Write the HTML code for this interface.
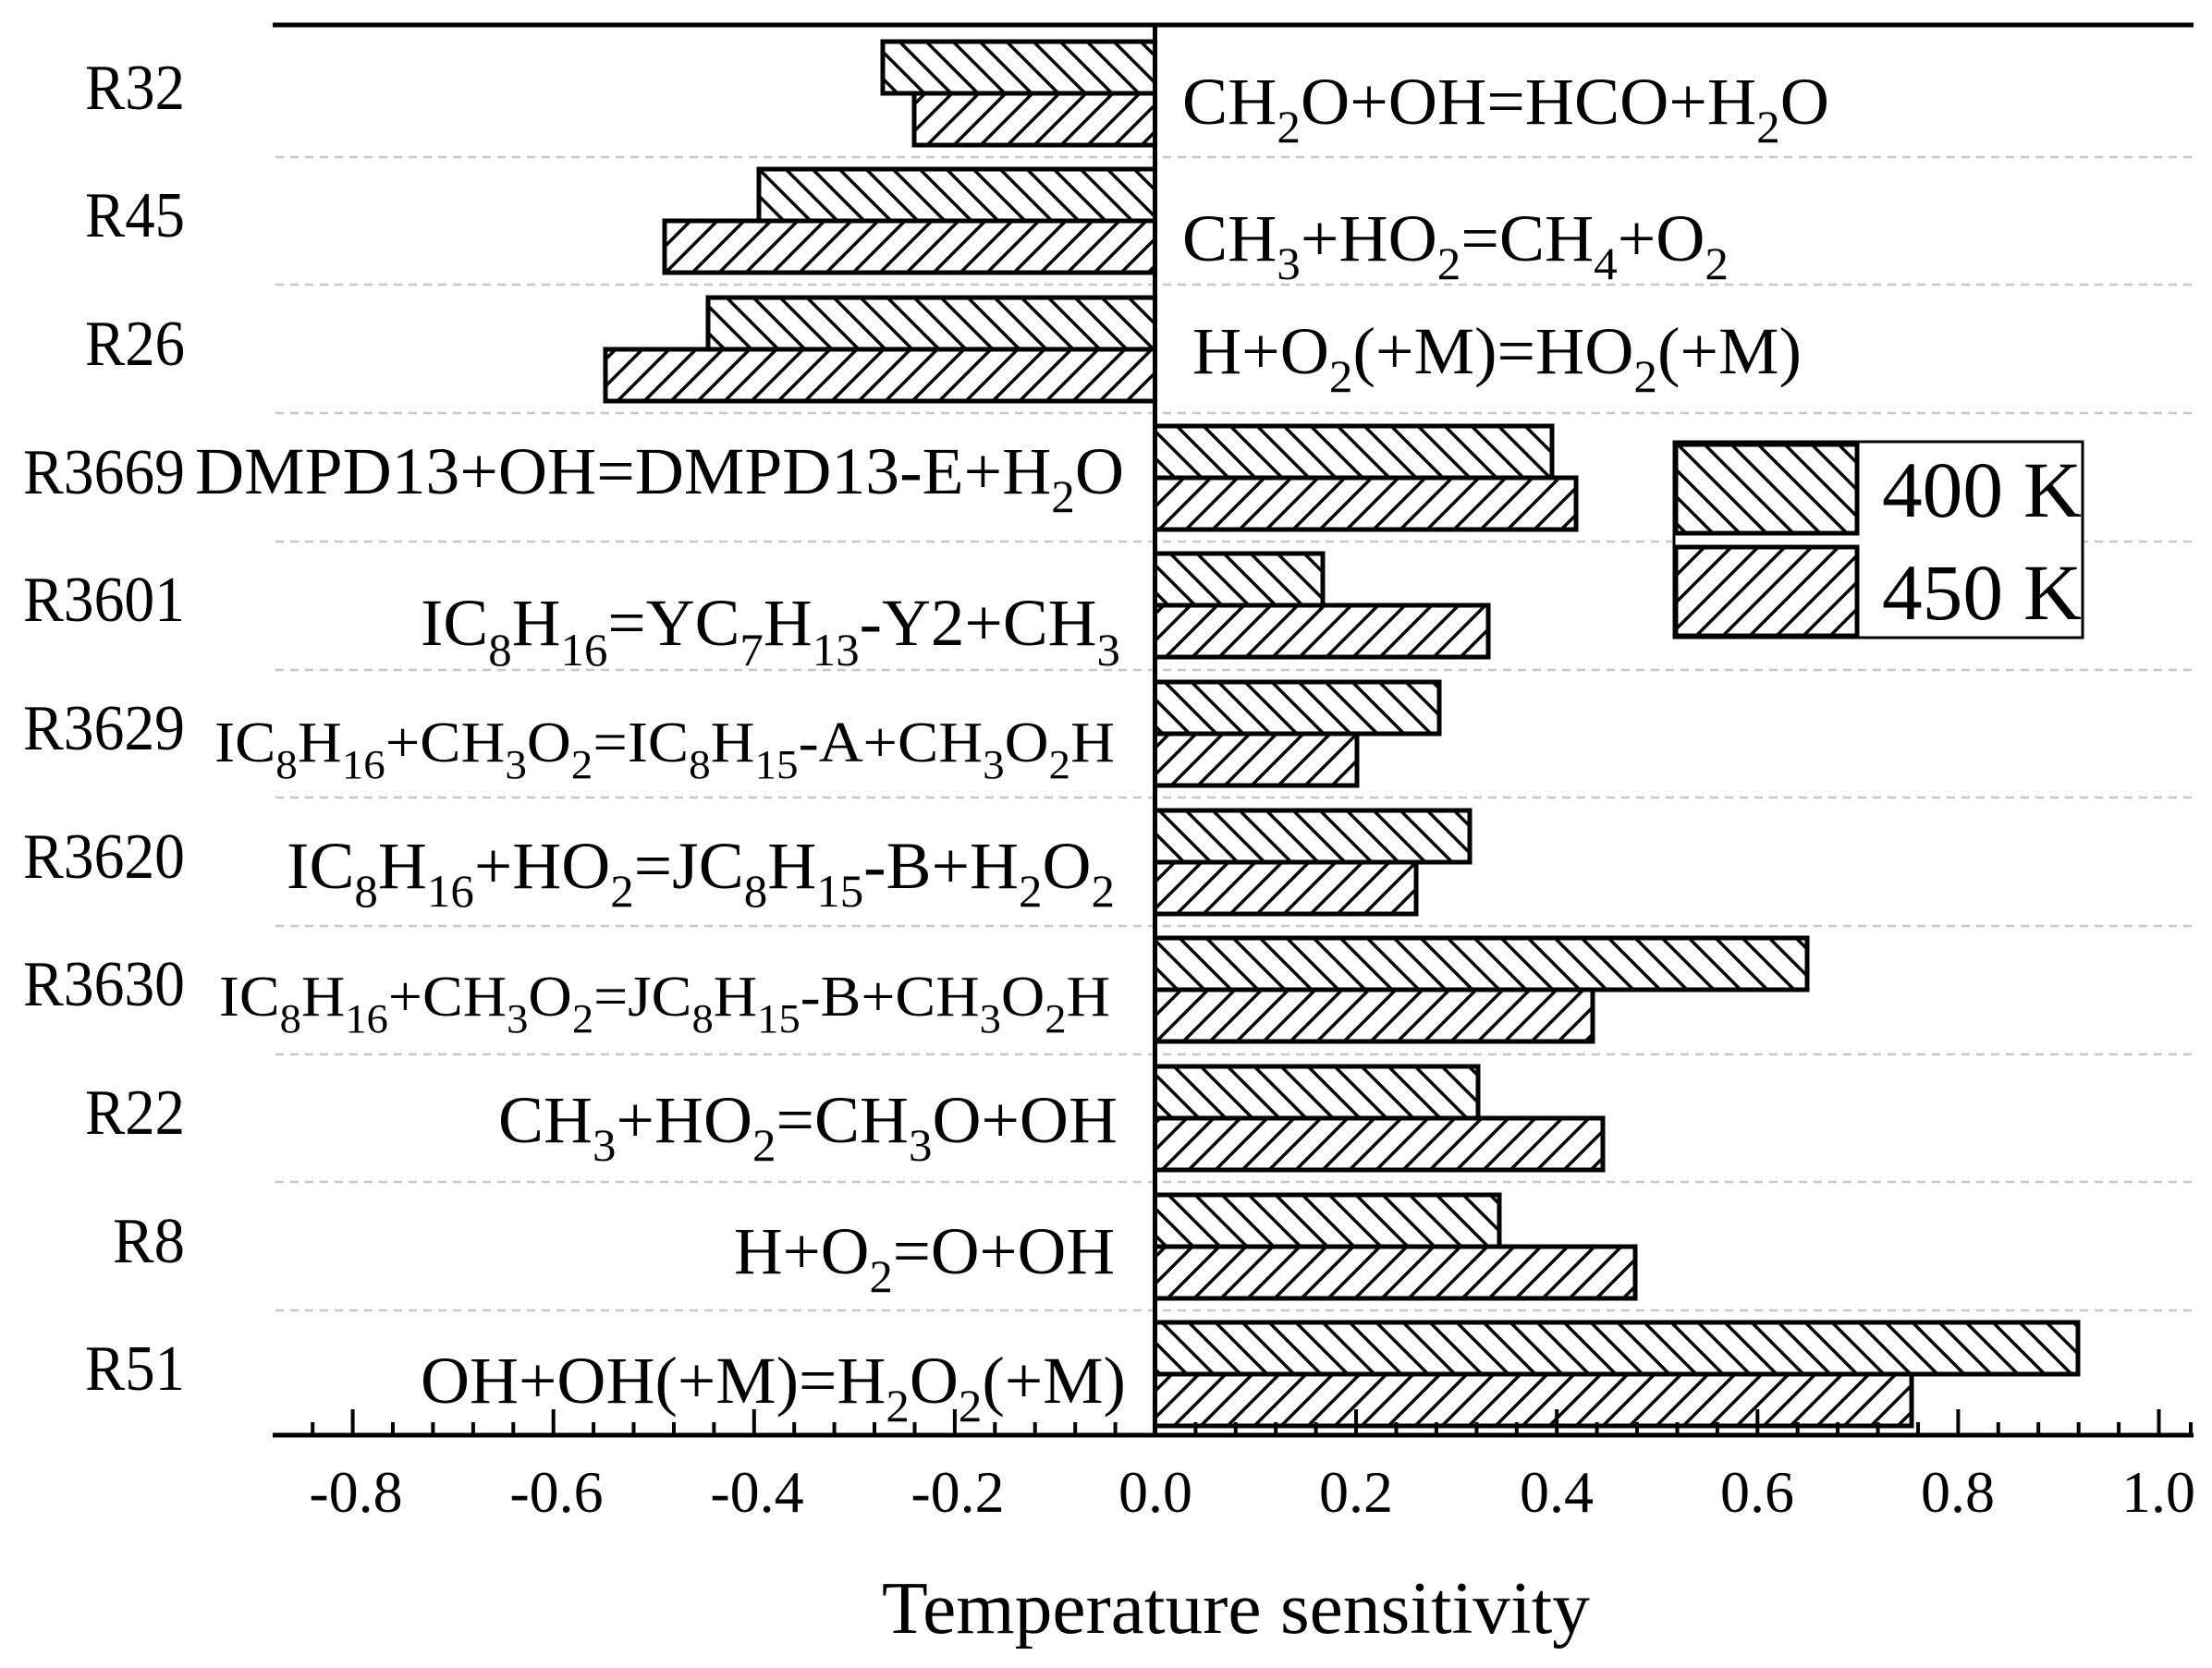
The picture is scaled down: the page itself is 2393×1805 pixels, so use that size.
<!DOCTYPE html>
<html><head><meta charset="utf-8"><style>
html,body{margin:0;padding:0;background:#fff;}
svg{display:block;}
text{font-family:"Liberation Serif",serif;fill:#000;}
</style></head><body>
<svg width="2393" height="1805" viewBox="0 0 2393 1805" xmlns="http://www.w3.org/2000/svg">
<defs>
<pattern id="hb" patternUnits="userSpaceOnUse" width="29" height="29">
<path d="M-7,-7 L36,36 M-36,-7 L7,36 M22,-7 L65,36" stroke="#000" stroke-width="3.5"/>
</pattern>
<pattern id="hf" patternUnits="userSpaceOnUse" width="29" height="29">
<path d="M-7,36 L36,-7 M-36,36 L7,-7 M22,36 L65,-7" stroke="#000" stroke-width="3.5"/>
</pattern>
</defs>
<g stroke="#c8c8c8" stroke-width="2.5" stroke-dasharray="9,7">
<line x1="298" y1="170" x2="2373" y2="170"/>
<line x1="298" y1="308" x2="2373" y2="308"/>
<line x1="298" y1="447" x2="2373" y2="447"/>
<line x1="298" y1="586" x2="2373" y2="586"/>
<line x1="298" y1="725" x2="2373" y2="725"/>
<line x1="298" y1="863" x2="2373" y2="863"/>
<line x1="298" y1="1002" x2="2373" y2="1002"/>
<line x1="298" y1="1141" x2="2373" y2="1141"/>
<line x1="298" y1="1279" x2="2373" y2="1279"/>
<line x1="298" y1="1418" x2="2373" y2="1418"/>
</g>
<g stroke="#000" stroke-width="5">
<rect x="955" y="45" width="294.5" height="56" fill="url(#hb)"/>
<rect x="989" y="101" width="260.5" height="56" fill="url(#hf)"/>
<rect x="821" y="183" width="428.5" height="56" fill="url(#hb)"/>
<rect x="719" y="239" width="530.5" height="56" fill="url(#hf)"/>
<rect x="766" y="322" width="483.5" height="56" fill="url(#hb)"/>
<rect x="655" y="378" width="594.5" height="56" fill="url(#hf)"/>
<rect x="1249.5" y="461" width="429.5" height="56" fill="url(#hb)"/>
<rect x="1249.5" y="517" width="455.5" height="56" fill="url(#hf)"/>
<rect x="1249.5" y="599" width="181.5" height="56" fill="url(#hb)"/>
<rect x="1249.5" y="655" width="360.5" height="56" fill="url(#hf)"/>
<rect x="1249.5" y="738" width="307.5" height="56" fill="url(#hb)"/>
<rect x="1249.5" y="794" width="218.5" height="56" fill="url(#hf)"/>
<rect x="1249.5" y="877" width="340.5" height="56" fill="url(#hb)"/>
<rect x="1249.5" y="933" width="282.5" height="56" fill="url(#hf)"/>
<rect x="1249.5" y="1015" width="705.5" height="56" fill="url(#hb)"/>
<rect x="1249.5" y="1071" width="473.5" height="56" fill="url(#hf)"/>
<rect x="1249.5" y="1154" width="349.5" height="56" fill="url(#hb)"/>
<rect x="1249.5" y="1210" width="484.5" height="56" fill="url(#hf)"/>
<rect x="1249.5" y="1293" width="372.5" height="56" fill="url(#hb)"/>
<rect x="1249.5" y="1349" width="519.5" height="56" fill="url(#hf)"/>
<rect x="1249.5" y="1431" width="998.5" height="56" fill="url(#hb)"/>
<rect x="1249.5" y="1487" width="818.5" height="56" fill="url(#hf)"/>
</g>
<g stroke="#000" stroke-width="5">
<line x1="295" y1="27" x2="2373" y2="27"/>
<line x1="295" y1="1553" x2="2373" y2="1553"/>
<line x1="1249.5" y1="27" x2="1249.5" y2="1553"/>
</g>
<g stroke="#000" stroke-width="4">
<path d="M338.2 1553v-14M425 1553v-14M468.4 1553v-14M511.9 1553v-14M555.3 1553v-14M642.1 1553v-14M685.5 1553v-14M729 1553v-14M772.4 1553v-14M859.2 1553v-14M902.6 1553v-14M946 1553v-14M989.5 1553v-14M1076.3 1553v-14M1119.7 1553v-14M1163.2 1553v-14M1206.6 1553v-14M1293.4 1553v-14M1336.8 1553v-14M1380.2 1553v-14M1423.6 1553v-14M1510.5 1553v-14M1553.9 1553v-14M1597.4 1553v-14M1640.8 1553v-14M1727.6 1553v-14M1771 1553v-14M1814.5 1553v-14M1857.9 1553v-14M1944.7 1553v-14M1988.1 1553v-14M2031.6 1553v-14M2075 1553v-14M2161.8 1553v-14M2205.2 1553v-14M2248.7 1553v-14M2292.1 1553v-14M2370 1553v-14"/>
<path d="M381.6 1553v-28M598.7 1553v-28M815.8 1553v-28M1032.9 1553v-28M1467 1553v-28M1684.2 1553v-28M1901.3 1553v-28M2118.4 1553v-28M2335.5 1553v-28"/>
</g>
<g font-size="64" text-anchor="middle">
<text x="385" y="1636">-0.8</text>
<text x="602" y="1636">-0.6</text>
<text x="819" y="1636">-0.4</text>
<text x="1036" y="1636">-0.2</text>
<text x="1250" y="1636">0.0</text>
<text x="1467" y="1636">0.2</text>
<text x="1684" y="1636">0.4</text>
<text x="1901" y="1636">0.6</text>
<text x="2118" y="1636">0.8</text>
<text x="2335" y="1636">1.0</text>
</g>
<text x="954" y="1767" font-size="80" textLength="766" lengthAdjust="spacingAndGlyphs">Temperature sensitivity</text>
<g font-size="70">
<text x="92" y="118" textLength="108" lengthAdjust="spacingAndGlyphs">R32</text>
<text x="92" y="256" textLength="108" lengthAdjust="spacingAndGlyphs">R45</text>
<text x="92" y="395" textLength="108" lengthAdjust="spacingAndGlyphs">R26</text>
<text x="25" y="534" textLength="175" lengthAdjust="spacingAndGlyphs">R3669</text>
<text x="25" y="672" textLength="175" lengthAdjust="spacingAndGlyphs">R3601</text>
<text x="25" y="811" textLength="175" lengthAdjust="spacingAndGlyphs">R3629</text>
<text x="25" y="950" textLength="175" lengthAdjust="spacingAndGlyphs">R3620</text>
<text x="25" y="1088" textLength="175" lengthAdjust="spacingAndGlyphs">R3630</text>
<text x="92" y="1227" textLength="108" lengthAdjust="spacingAndGlyphs">R22</text>
<text x="122" y="1366" textLength="78" lengthAdjust="spacingAndGlyphs">R8</text>
<text x="92" y="1504" textLength="108" lengthAdjust="spacingAndGlyphs">R51</text>
</g>
<g font-size="72">
<text x="1279" y="134" textLength="700" lengthAdjust="spacingAndGlyphs">CH<tspan font-size="50" dy="20">2</tspan><tspan dy="-20">O+OH=HCO+H</tspan><tspan font-size="50" dy="20">2</tspan><tspan dy="-20">O</tspan></text>
<text x="1279" y="282" textLength="591" lengthAdjust="spacingAndGlyphs">CH<tspan font-size="50" dy="20">3</tspan><tspan dy="-20">+HO</tspan><tspan font-size="50" dy="20">2</tspan><tspan dy="-20">=CH</tspan><tspan font-size="50" dy="20">4</tspan><tspan dy="-20">+O</tspan><tspan font-size="50" dy="20">2</tspan></text>
<text x="1290" y="404" textLength="659" lengthAdjust="spacingAndGlyphs">H+O<tspan font-size="50" dy="20">2</tspan><tspan dy="-20">(+M)=HO</tspan><tspan font-size="50" dy="20">2</tspan><tspan dy="-20">(+M)</tspan></text>
<text x="211" y="534" textLength="1005" lengthAdjust="spacingAndGlyphs">DMPD13+OH=DMPD13-E+H<tspan font-size="50" dy="20">2</tspan><tspan dy="-20">O</tspan></text>
<text x="455" y="698" textLength="757" lengthAdjust="spacingAndGlyphs">IC<tspan font-size="50" dy="22">8</tspan><tspan dy="-22">H</tspan><tspan font-size="50" dy="22">16</tspan><tspan dy="-22">=YC</tspan><tspan font-size="50" dy="22">7</tspan><tspan dy="-22">H</tspan><tspan font-size="50" dy="22">13</tspan><tspan dy="-22">-Y2+CH</tspan><tspan font-size="50" dy="22">3</tspan></text>
<text x="232" y="824" font-size="62" textLength="974" lengthAdjust="spacingAndGlyphs">IC<tspan font-size="44" dy="18">8</tspan><tspan dy="-18">H</tspan><tspan font-size="44" dy="18">16</tspan><tspan dy="-18">+CH</tspan><tspan font-size="44" dy="18">3</tspan><tspan dy="-18">O</tspan><tspan font-size="44" dy="18">2</tspan><tspan dy="-18">=IC</tspan><tspan font-size="44" dy="18">8</tspan><tspan dy="-18">H</tspan><tspan font-size="44" dy="18">15</tspan><tspan dy="-18">-A+CH</tspan><tspan font-size="44" dy="18">3</tspan><tspan dy="-18">O</tspan><tspan font-size="44" dy="18">2</tspan><tspan dy="-18">H</tspan></text>
<text x="310" y="961" textLength="896" lengthAdjust="spacingAndGlyphs">IC<tspan font-size="50" dy="20">8</tspan><tspan dy="-20">H</tspan><tspan font-size="50" dy="20">16</tspan><tspan dy="-20">+HO</tspan><tspan font-size="50" dy="20">2</tspan><tspan dy="-20">=JC</tspan><tspan font-size="50" dy="20">8</tspan><tspan dy="-20">H</tspan><tspan font-size="50" dy="20">15</tspan><tspan dy="-20">-B+H</tspan><tspan font-size="50" dy="20">2</tspan><tspan dy="-20">O</tspan><tspan font-size="50" dy="20">2</tspan></text>
<text x="237" y="1099" font-size="62" textLength="964" lengthAdjust="spacingAndGlyphs">IC<tspan font-size="44" dy="18">8</tspan><tspan dy="-18">H</tspan><tspan font-size="44" dy="18">16</tspan><tspan dy="-18">+CH</tspan><tspan font-size="44" dy="18">3</tspan><tspan dy="-18">O</tspan><tspan font-size="44" dy="18">2</tspan><tspan dy="-18">=JC</tspan><tspan font-size="44" dy="18">8</tspan><tspan dy="-18">H</tspan><tspan font-size="44" dy="18">15</tspan><tspan dy="-18">-B+CH</tspan><tspan font-size="44" dy="18">3</tspan><tspan dy="-18">O</tspan><tspan font-size="44" dy="18">2</tspan><tspan dy="-18">H</tspan></text>
<text x="539" y="1236" textLength="670" lengthAdjust="spacingAndGlyphs">CH<tspan font-size="50" dy="20">3</tspan><tspan dy="-20">+HO</tspan><tspan font-size="50" dy="20">2</tspan><tspan dy="-20">=CH</tspan><tspan font-size="50" dy="20">3</tspan><tspan dy="-20">O+OH</tspan></text>
<text x="794" y="1378" textLength="412" lengthAdjust="spacingAndGlyphs">H+O<tspan font-size="50" dy="20">2</tspan><tspan dy="-20">=O+OH</tspan></text>
<text x="455" y="1518" textLength="763" lengthAdjust="spacingAndGlyphs">OH+OH(+M)=H<tspan font-size="50" dy="20">2</tspan><tspan dy="-20">O</tspan><tspan font-size="50" dy="20">2</tspan><tspan dy="-20">(+M)</tspan></text>
</g>
<rect x="1811" y="478" width="442" height="212" fill="#fff" stroke="#000" stroke-width="3"/>
<rect x="1813" y="481" width="196" height="96" fill="url(#hb)" stroke="#000" stroke-width="5"/>
<rect x="1813" y="592" width="196" height="96" fill="url(#hf)" stroke="#000" stroke-width="5"/>
<text x="2036" y="559" font-size="86" textLength="216" lengthAdjust="spacingAndGlyphs">400 K</text>
<text x="2036" y="670" font-size="86" textLength="216" lengthAdjust="spacingAndGlyphs">450 K</text>
</svg>
</body></html>
